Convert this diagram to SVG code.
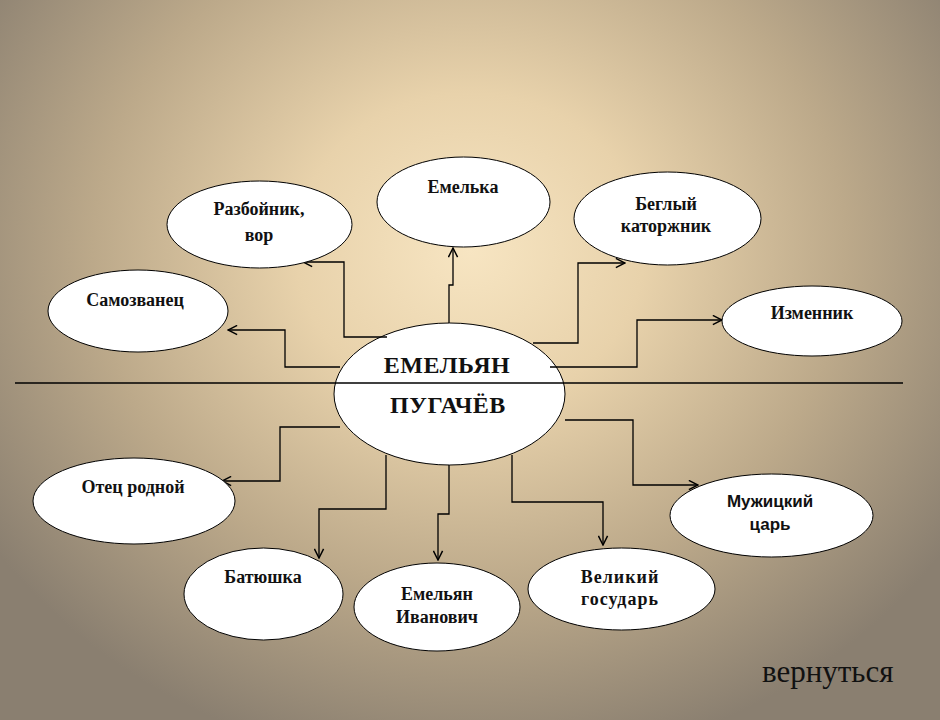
<svg xmlns="http://www.w3.org/2000/svg" width="940" height="720" viewBox="0 0 940 720">
<defs>
<radialGradient id="bg" gradientUnits="userSpaceOnUse" cx="470" cy="250" r="580" gradientTransform="translate(470 250) scale(1 0.9) translate(-470 -250)">
<stop offset="0" stop-color="#f7e5c2"/>
<stop offset="0.3" stop-color="#e8d2ab"/>
<stop offset="0.65" stop-color="#bca98a"/>
<stop offset="1" stop-color="#8a7f70"/>
</radialGradient>
<marker id="arr" viewBox="0 0 12 12" refX="11" refY="6" markerWidth="11" markerHeight="11" markerUnits="userSpaceOnUse" orient="auto">
<path d="M1,1 L11,6 L1,11" fill="none" stroke="#000" stroke-width="1.6"/>
</marker>
<style>
.node ellipse{fill:#fff;stroke:#000;stroke-width:1}
.t{font-family:"Liberation Serif","Times New Roman",serif;font-weight:bold;font-size:18px;fill:#111;text-anchor:middle}
.s{font-family:"Liberation Sans",Arial,sans-serif;font-weight:bold;font-size:17px;fill:#111;text-anchor:middle}
.big{font-family:"Liberation Serif","Times New Roman",serif;font-weight:bold;font-size:24px;fill:#111;text-anchor:middle;letter-spacing:0.5px}
.conn polyline{fill:none;stroke:#000;stroke-width:1.3;marker-end:url(#arr)}
</style>
</defs>
<rect width="940" height="720" fill="url(#bg)"/>

<g id="center">
<g class="node"><ellipse cx="449.5" cy="394" rx="115.5" ry="71"/></g>
<text class="big" x="447" y="373">ЕМЕЛЬЯН</text>
<text class="big" x="448" y="413">ПУГАЧЁВ</text>
</g>
<line x1="15" y1="383" x2="903" y2="383" stroke="#000" stroke-width="1.3"/>

<g class="conn" id="connectors">
<polyline points="387,337 344,337 344,262 303,262"/>
<polyline points="449,323 449,285 453,285 453,248"/>
<polyline points="340,367 285,367 285,330 228,330"/>
<polyline points="533,343 578,343 578,263 625,263"/>
<polyline points="550,367 637,367 637,320 722,320"/>
<polyline points="340,427 280,427 280,481 222,481"/>
<polyline points="386,455 386,509 319,509 319,558"/>
<polyline points="449,465 449,514 438,514 438,560"/>
<polyline points="512,455 512,502 603,502 603,545"/>
<polyline points="565,420 633,420 633,485 698,485"/>
</g>

<g id="n-emelka" class="node"><ellipse cx="463.5" cy="202" rx="86.5" ry="45"/><text class="t" x="463" y="193">Емелька</text></g>
<g id="n-razboinik" class="node"><ellipse cx="259.5" cy="224.5" rx="92.5" ry="43.5"/><text class="t" x="259" y="215">Разбойник,</text><text class="t" x="259" y="241">вор</text></g>
<g id="n-samozvanec" class="node"><ellipse cx="138" cy="311" rx="90" ry="41"/><text class="t" x="135" y="306">Самозванец</text></g>
<g id="n-beglyi" class="node"><ellipse cx="667.5" cy="218.5" rx="93.5" ry="46.5"/><text class="t" x="666" y="210">Беглый</text><text class="t" x="666" y="232">каторжник</text></g>
<g id="n-izmennik" class="node"><ellipse cx="812" cy="321" rx="90" ry="35"/><text class="t" x="812" y="319">Изменник</text></g>
<g id="n-otec" class="node"><ellipse cx="134" cy="501" rx="101" ry="43"/><text class="t" x="133" y="493">Отец родной</text></g>
<g id="n-batyushka" class="node"><ellipse cx="263.5" cy="594" rx="79.5" ry="46"/><text class="t" x="263" y="583">Батюшка</text></g>
<g id="n-emelyan-iv" class="node"><ellipse cx="437" cy="607" rx="83" ry="44"/><text class="t" x="437" y="600">Емельян</text><text class="t" x="437" y="623">Иванович</text></g>
<g id="n-velikii" class="node"><ellipse cx="621.5" cy="589" rx="93.5" ry="41"/><text class="t" x="620" y="583" letter-spacing="1">Великий</text><text class="t" x="620" y="605" letter-spacing="1">государь</text></g>
<g id="n-muzhickii" class="node"><ellipse cx="771.5" cy="515.5" rx="101.5" ry="41.5"/><text class="s" x="770" y="507">Мужицкий</text><text class="s" x="770" y="530">царь</text></g>

<text x="762" y="682" font-family="'Liberation Serif','Times New Roman',serif" font-size="31" fill="#111">вернуться</text>
</svg>
